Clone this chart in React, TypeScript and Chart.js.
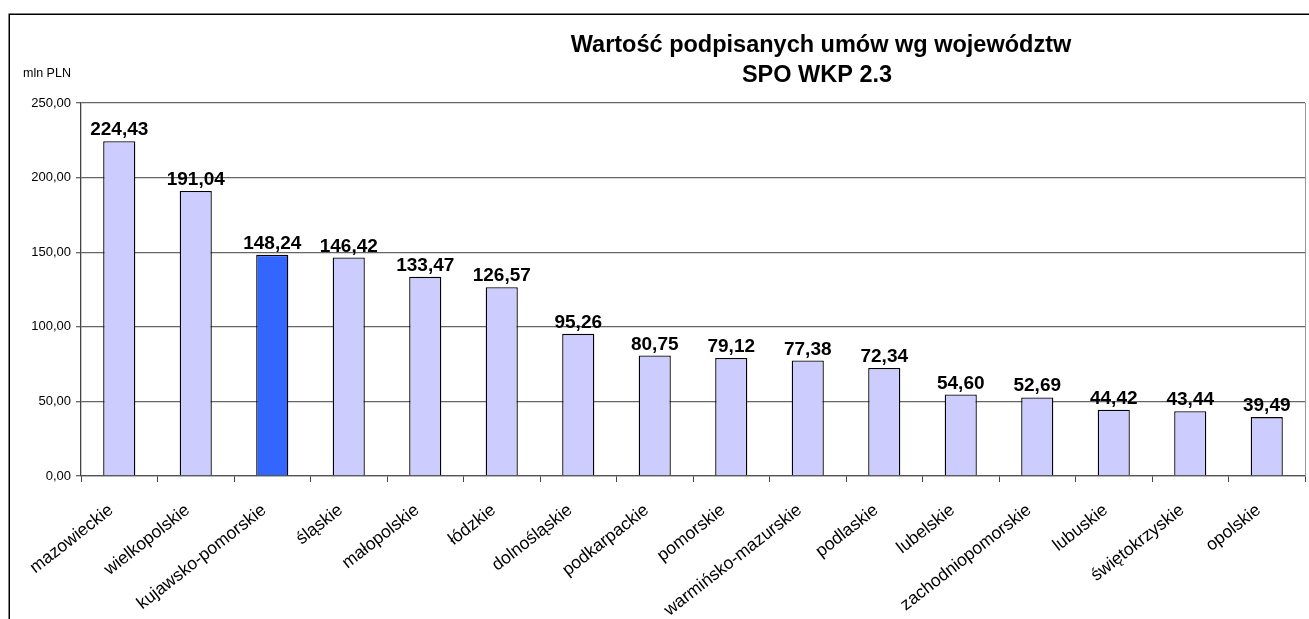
import React, { useEffect, useRef } from "react";
import { Chart, registerables } from "chart.js";

Chart.register(...registerables);

const categories = [
  "mazowieckie",
  "wielkopolskie",
  "kujawsko-pomorskie",
  "śląskie",
  "małopolskie",
  "łódzkie",
  "dolnośląskie",
  "podkarpackie",
  "pomorskie",
  "warmińsko-mazurskie",
  "podlaskie",
  "lubelskie",
  "zachodniopomorskie",
  "lubuskie",
  "świętokrzyskie",
  "opolskie",
];
const values = [
  224.43, 191.04, 148.24, 146.42, 133.47, 126.57, 95.26, 80.75, 79.12, 77.38,
  72.34, 54.6, 52.69, 44.42, 43.44, 39.49,
];
const highlighted = ["kujawsko-pomorskie"];
const titleLines = ["Wartość podpisanych umów wg województw", "SPO WKP 2.3"];
const unitLabel = "mln PLN";
const yMin = 0;
const yMax = 250;
const yStep = 50;

const FONT = "Arial, 'Liberation Sans', sans-serif";
const fmt = (v: number) => v.toFixed(2).replace(".", ",");

export default function App() {
  const ref = useRef<HTMLCanvasElement | null>(null);

  useEffect(() => {
    if (!ref.current) return;

    const decorations = {
      id: "decorations",
      afterDatasetsDraw(chart: any) {
        const ctx = chart.ctx;
        const meta = chart.getDatasetMeta(0);
        ctx.save();
        ctx.fillStyle = "#000";
        ctx.font = `bold 19px ${FONT}`;
        ctx.textAlign = "center";
        ctx.textBaseline = "alphabetic";
        meta.data.forEach((bar: any, i: number) => {
          ctx.fillText(fmt(values[i]), bar.x, bar.y - 6);
        });
        ctx.restore();
      },
      afterDraw(chart: any) {
        const ctx = chart.ctx;
        const area = chart.chartArea;
        ctx.save();
        // plot area right border
        ctx.strokeStyle = "#9a9a9a";
        ctx.lineWidth = 1;
        ctx.beginPath();
        ctx.moveTo(Math.round(area.right) + 0.5, area.top);
        ctx.lineTo(Math.round(area.right) + 0.5, area.bottom);
        ctx.stroke();
        // outer frame
        ctx.strokeStyle = "#000";
        ctx.lineWidth = 1.5;
        ctx.strokeRect(9.25, 14.25, 1500, 800);
        // title
        ctx.fillStyle = "#000";
        ctx.font = `bold 23.5px ${FONT}`;
        ctx.textAlign = "center";
        ctx.textBaseline = "alphabetic";
        ctx.fillText(titleLines[0], 821, 52);
        ctx.fillText(titleLines[1], 817, 82);
        // unit label
        ctx.font = `12.5px ${FONT}`;
        ctx.textAlign = "left";
        ctx.fillText(unitLabel, 23, 77);
        ctx.restore();
      },
    };

    const chart = new Chart(ref.current, {
      type: "bar",
      data: {
        labels: categories,
        datasets: [
          {
            data: values,
            backgroundColor: categories.map((c) =>
              highlighted.includes(c) ? "#3366FF" : "#CCCCFF"
            ),
            borderColor: "#000",
            borderWidth: 1.3,
            barPercentage: 0.42,
            categoryPercentage: 1,
          },
        ],
      },
      options: {
        responsive: false,
        animation: false,
        devicePixelRatio: 1,
        layout: { padding: { top: 103, right: 4, bottom: 0, left: 0 } },
        plugins: {
          legend: { display: false },
          title: { display: false },
          tooltip: { enabled: false },
        },
        scales: {
          x: {
            offset: true,
            afterFit: (s: any) => {
              s.height = 143;
            },
            grid: {
              display: true,
              offset: true,
              drawOnChartArea: false,
              drawTicks: true,
              tickLength: 6,
              color: "#444",
            },
            border: { display: true, color: "#555", width: 1.3 },
            ticks: {
              autoSkip: false,
              minRotation: 38,
              maxRotation: 38,
              padding: 18,
              labelOffset: -8,
              color: "#000",
              font: { family: FONT, size: 17.5 },
            },
          },
          y: {
            min: yMin,
            max: yMax,
            afterFit: (s: any) => {
              s.width = 81;
            },
            ticks: {
              stepSize: yStep,
              padding: 5,
              color: "#000",
              font: { family: FONT, size: 13 },
              callback: (v: any) => fmt(Number(v)),
            },
            grid: {
              color: "#666",
              lineWidth: 1.3,
              tickLength: 5,
              drawTicks: true,
            },
            border: { display: true, color: "#444", width: 1.3 },
          },
        },
      },
      plugins: [decorations],
    });

    return () => chart.destroy();
  }, []);

  return (
    <div
      style={{
        position: "absolute",
        left: 0,
        top: 0,
        width: 1309,
        height: 619,
        background: "#fff",
        overflow: "hidden",
      }}
    >
      <canvas ref={ref} width={1309} height={619} style={{ display: "block" }} />
    </div>
  );
}
